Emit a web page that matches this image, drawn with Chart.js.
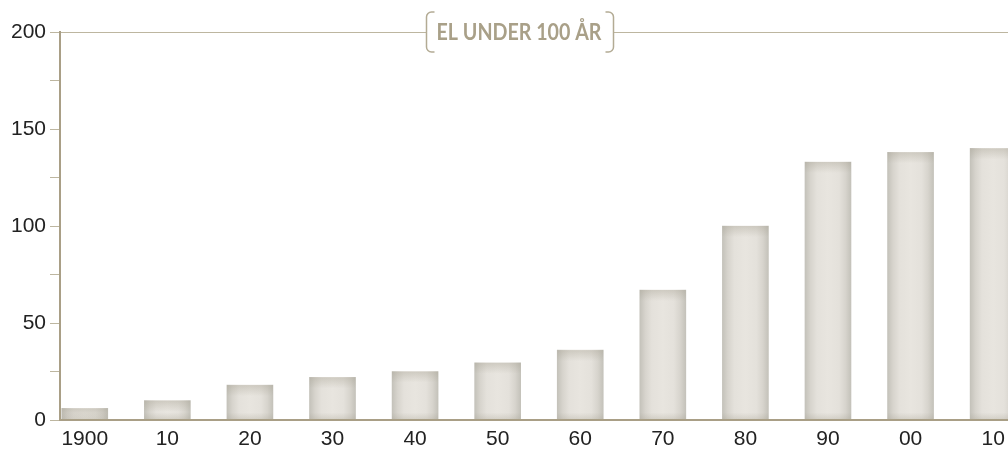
<!DOCTYPE html>
<html>
<head>
<meta charset="utf-8">
<script src="https://cdn.jsdelivr.net/npm/chart.js@4.4.0/dist/chart.umd.min.js"></script>
<style>
  body { margin: 0; background: #fff; overflow: hidden; }
</style>
</head>
<body>
<canvas id="canvas" width="1008" height="452"></canvas>
<script>
// decades, el-forbrug
const years = [1900, 1910, 1920, 1930, 1940, 1950, 1960, 1970, 1980, 1990, 2000, 2010];
const xLabels = ['1900', '10', '20', '30', '40', '50', '60', '70', '80', '90', '00', '10'];
const values = [6, 10, 18, 22, 25, 29.5, 36, 67, 100, 133, 138, 140];
const yLabels = [0, 50, 100, 150, 200];
const title = 'EL UNDER 100 ÅR';

const tan = '#bdb6a0';
const axisTan = '#a99f86';
const labelFont = { family: "'Liberation Sans', Arial, sans-serif", size: 21 };

function barFill(c) {
  const chart = c.chart;
  if (!chart.chartArea || c.dataIndex === undefined) return '#e2dfd9';
  const x = chart.scales.x.getPixelForValue(years[c.dataIndex]);
  const g = chart.ctx.createLinearGradient(x - 23, 0, x + 23, 0);
  g.addColorStop(0, '#c4c2ba');
  g.addColorStop(0.12, '#d7d4cd');
  g.addColorStop(0.26, '#e4e1db');
  g.addColorStop(0.5, '#e8e5df');
  g.addColorStop(0.74, '#e4e1db');
  g.addColorStop(0.88, '#d7d4cd');
  g.addColorStop(1, '#c4c2ba');
  return g;
}

// skygge i top og bund af søjlerne
const barShade = {
  id: 'barShade',
  afterDatasetsDraw(chart) {
    const ctx = chart.ctx;
    const a = chart.chartArea;
    ctx.save();
    ctx.beginPath();
    ctx.rect(a.left, a.top, a.width, a.height);
    ctx.clip();
    chart.getDatasetMeta(0).data.forEach(bar => {
      const l = bar.x - bar.width / 2;
      const h = bar.base - bar.y;
      let g = ctx.createLinearGradient(0, bar.y, 0, bar.y + 11);
      g.addColorStop(0, 'rgba(165,160,145,0.38)');
      g.addColorStop(1, 'rgba(165,160,145,0)');
      ctx.fillStyle = g;
      ctx.fillRect(l, bar.y, bar.width, Math.min(11, h));
      g = ctx.createLinearGradient(0, bar.base, 0, bar.base - 7);
      g.addColorStop(0, 'rgba(165,160,145,0.3)');
      g.addColorStop(1, 'rgba(165,160,145,0)');
      ctx.fillStyle = g;
      ctx.fillRect(l, bar.base - Math.min(7, h), bar.width, Math.min(7, h));
    });
    ctx.restore();
  }
};

const boxTitle = {
  id: 'boxTitle',
  afterDraw(chart) {
    const ctx = chart.ctx;
    const cx = 519, cy = chart.chartArea.top;
    const maxW = 165;
    ctx.save();
    ctx.font = "bold 23px Lato, sans-serif";
    const w = Math.min(ctx.measureText(title).width, maxW);
    const left = cx - w / 2 - 10, right = cx + w / 2 + 12;
    const top = cy - 20, bottom = cy + 20;
    ctx.fillStyle = '#fff';
    ctx.fillRect(left, top - 2, right - left, bottom - top + 4);
    ctx.strokeStyle = '#b3ab94';
    ctx.lineWidth = 1.5;
    const r = 5, arm = 8;
    ctx.beginPath();
    ctx.moveTo(left + arm, top);
    ctx.lineTo(left + r, top);
    ctx.arcTo(left, top, left, top + r, r);
    ctx.lineTo(left, bottom - r);
    ctx.arcTo(left, bottom, left + r, bottom, r);
    ctx.lineTo(left + arm, bottom);
    ctx.moveTo(right - arm, top);
    ctx.lineTo(right - r, top);
    ctx.arcTo(right, top, right, top + r, r);
    ctx.lineTo(right, bottom - r);
    ctx.arcTo(right, bottom, right - r, bottom, r);
    ctx.lineTo(right - arm, bottom);
    ctx.stroke();
    ctx.fillStyle = '#a9a088';
    ctx.textAlign = 'center';
    ctx.textBaseline = 'alphabetic';
    ctx.fillText(title, cx, cy + 8, maxW);
    ctx.restore();
  }
};

const ctx = document.getElementById('canvas').getContext('2d');
const chart = new Chart(ctx, {
  type: 'bar',
  data: {
    datasets: [{
      data: years.map((y, i) => ({ x: y, y: values[i] })),
      backgroundColor: barFill,
      borderWidth: 0,
      barThickness: 46,
    }]
  },
  options: {
    responsive: false,
    animation: false,
    layout: { padding: { top: 32, left: 0, right: 0, bottom: 0 } },
    plugins: {
      legend: { display: false },
      tooltip: { enabled: false },
    },
    scales: {
      x: {
        type: 'linear',
        min: 1897,
        max: 2011.8,
        offset: false,
        afterFit: s => { s.height = 32; s.paddingRight = 0; s.paddingLeft = 0; },
        grid: { display: false, drawTicks: false, offset: false },
        border: { color: axisTan, width: 2, z: 1 },
        ticks: {
          stepSize: 10,
          includeBounds: false,
          autoSkip: false,
          maxRotation: 0,
          padding: 7,
          color: '#222',
          font: labelFont,
          callback: v => {
            const i = years.indexOf(v);
            return i >= 0 ? xLabels[i] : '';
          }
        }
      },
      y: {
        min: 0,
        max: 200,
        afterFit: s => { s.width = 60; },
        grid: {
          color: c => (c.tick && c.tick.value === 200) ? tan : 'rgba(0,0,0,0)',
          tickColor: tan,
          tickLength: 10,
          lineWidth: 1,
        },
        border: { color: axisTan, width: 2, z: 1 },
        ticks: {
          stepSize: 25,
          padding: 4,
          color: '#222',
          font: labelFont,
          callback: v => yLabels.includes(v) ? String(v) : ''
        }
      }
    }
  },
  plugins: [barShade, boxTitle]
});
</script>
</body>
</html>
